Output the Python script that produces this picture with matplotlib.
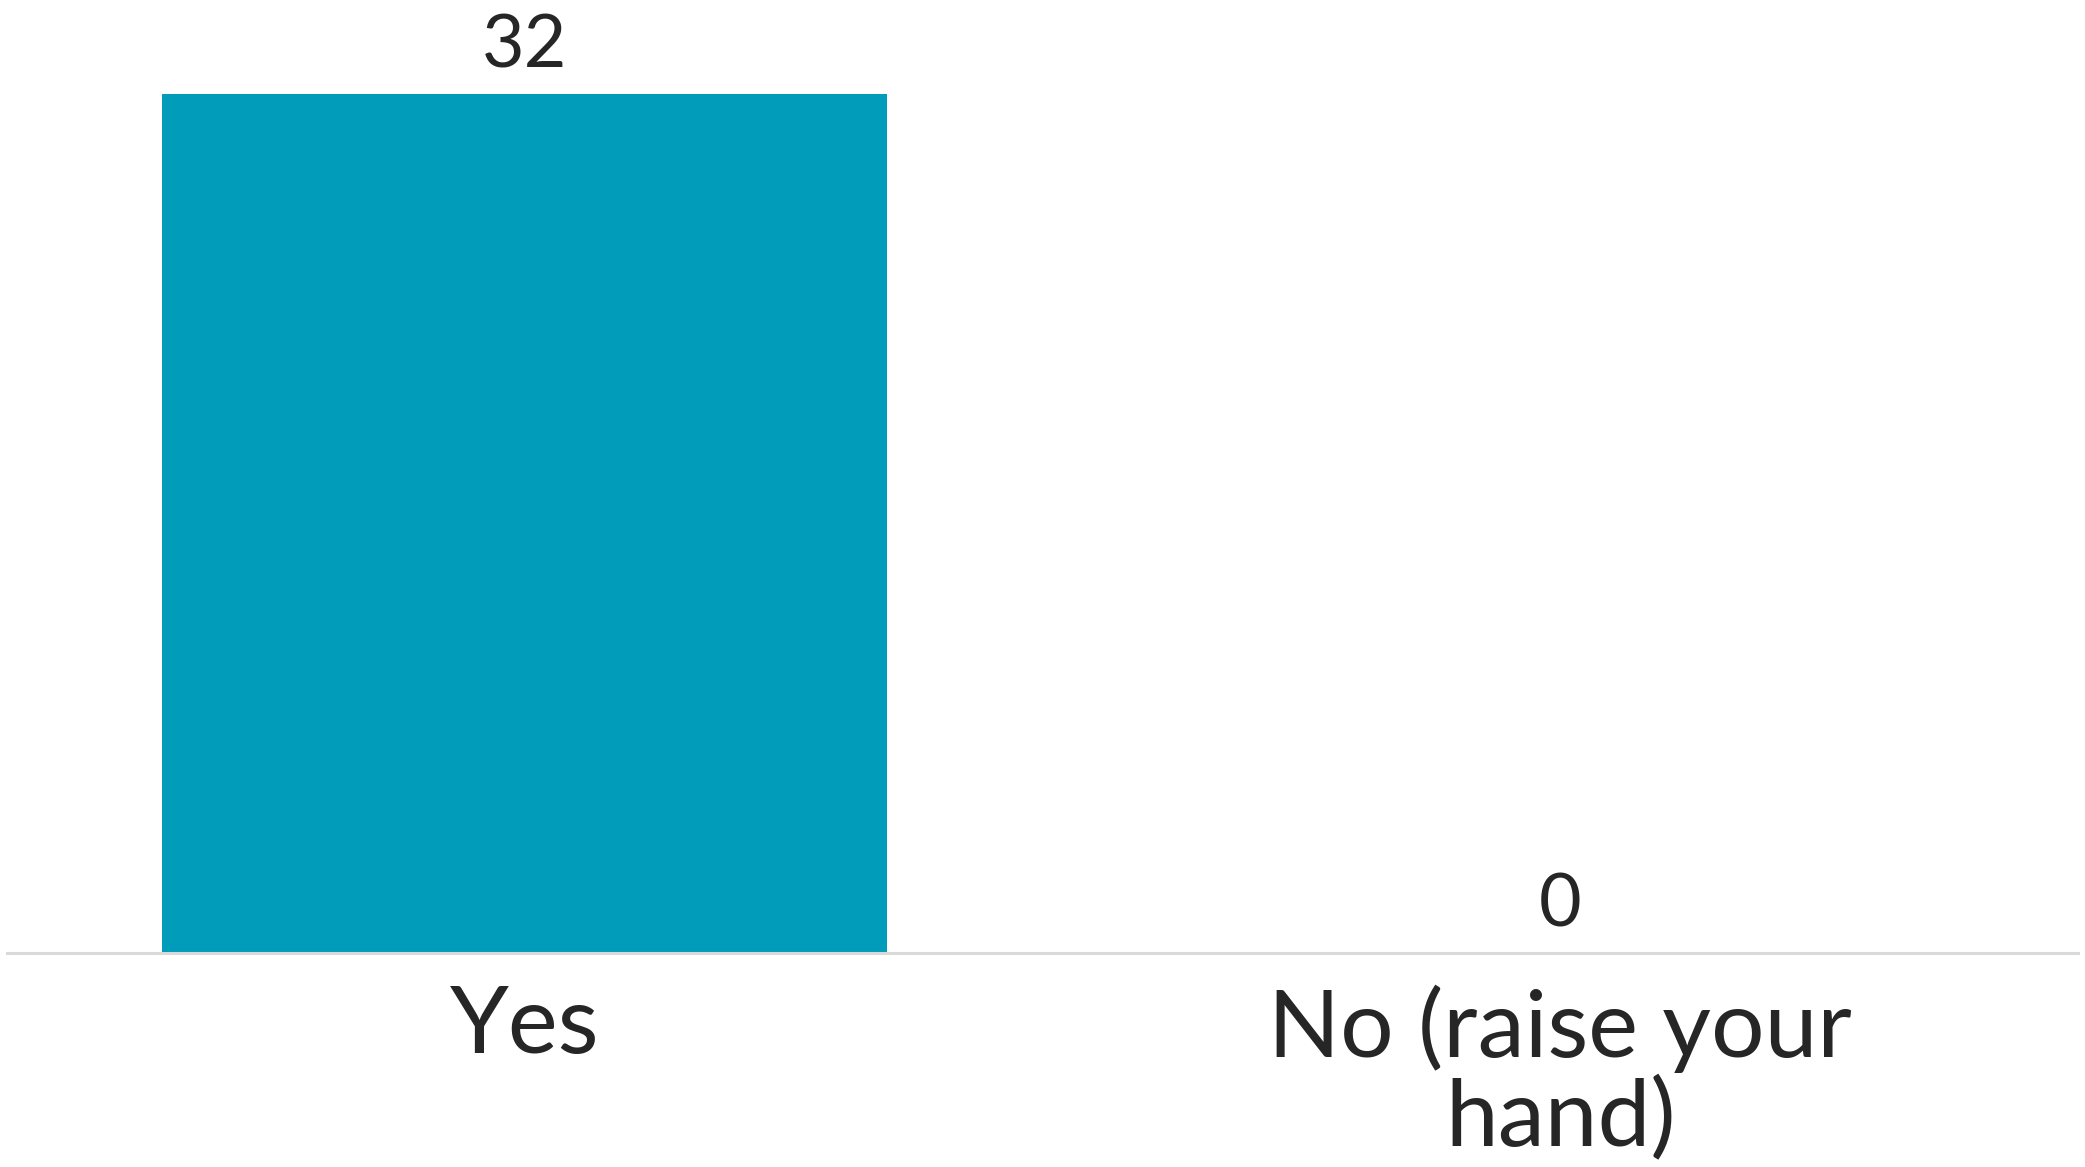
import matplotlib
matplotlib.use("Agg")
import matplotlib.pyplot as plt

categories = ["Yes", "No (raise your\nhand)"]
values = [32, 0]

plt.rcParams['font.family'] = ['Lato', 'DejaVu Sans']

W, H, DPI = 2085, 1167, 100
fig = plt.figure(figsize=(W / DPI, H / DPI), dpi=DPI)
left_px, right_px, base_px = 7, 2078, 953
ax = fig.add_axes([left_px / W, (H - base_px) / H, (right_px - left_px) / W, base_px / H])

x = list(range(len(categories)))
bars = ax.bar(x, values, width=0.70, color='#009cb9', zorder=2)
ax.set_xlim(-0.5, 1.5)
ax.set_ylim(0, 35.5)

for xi, v in zip(x, values):
    ax.annotate(str(v), (xi, v), xytext=(0, 10), textcoords='offset points',
                ha='center', va='bottom', fontsize=53, color='#262626',
                annotation_clip=False)

for s in ['top', 'right', 'left']:
    ax.spines[s].set_visible(False)
ax.spines['bottom'].set_color('#d9d9d9')
ax.spines['bottom'].set_linewidth(2.2)
ax.spines['bottom'].set_zorder(3)
ax.set_yticks([])
ax.set_xticks(x)
ax.set_xticklabels(categories, fontsize=68, color='#262626', linespacing=1.04)
ax.tick_params(axis='x', length=0, pad=23)

fig.savefig("out.png", dpi=DPI)
